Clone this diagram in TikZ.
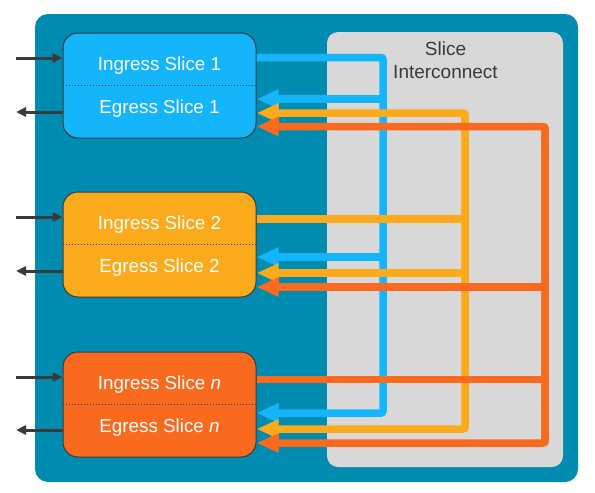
\documentclass[tikz,border=0pt]{standalone}
\usepackage{fontspec}
\setmainfont{Liberation Sans}
\usetikzlibrary{arrows.meta, positioning}

\definecolor{frame}{RGB}{0,140,176}
\definecolor{panel}{RGB}{216,216,216}
\definecolor{sliceblue}{RGB}{21,181,252}
\definecolor{sliceyellow}{RGB}{251,170,28}
\definecolor{sliceorange}{RGB}{250,106,30}
\definecolor{ink}{RGB}{58,58,58}

\tikzset{
  slice/.style={draw=ink, line width=1pt, rounded corners=15pt, minimum width=193pt, minimum height=105pt},
  slicetext/.style={text=white, font=\fontsize{18.8}{22}\selectfont},
  divider/.style={ink, line width=1pt, dotted},
  bus/.style={line width=7.5pt, rounded corners=2pt},
  tip/.style={-{Triangle[length=22pt,width=18pt]}},
  port/.style={ink, line width=3pt, -{Triangle[length=10pt,width=9pt]}}
}

\begin{document}
\begin{tikzpicture}[x=1pt,y=-1pt]
\useasboundingbox (0,0) rectangle (595,493);
% Draw frame and interconnect panel
\fill[frame, rounded corners=13pt] (35,14) rectangle (578,482);
\fill[panel, rounded corners=11pt] (327,32) rectangle (563,467);
\node[align=center, text=ink, font=\fontsize{19}{23}\selectfont] (xconn) at (445.5,60) {Slice\\Interconnect};
% Draw slices
\node[slice, fill=sliceblue] (slice1) at (159.5,85.5) {};
\node[slice, fill=sliceyellow] (slice2) at (159.5,244.5) {};
\node[slice, fill=sliceorange] (slicen) at (159.5,404.5) {};
\draw[divider] (slice1.west) -- (slice1.east);
\draw[divider] (slice2.west) -- (slice2.east);
\draw[divider] (slicen.west) -- (slicen.east);
\node[slicetext] (in1) at ([yshift=20pt]slice1.center) {Ingress Slice 1};
\node[slicetext] (out1) at ([yshift=-23pt]slice1.center) {Egress Slice 1};
\node[slicetext] (in2) at ([yshift=20pt]slice2.center) {Ingress Slice 2};
\node[slicetext] (out2) at ([yshift=-23pt]slice2.center) {Egress Slice 2};
\node[slicetext] (inn) at ([yshift=20pt]slicen.center) {Ingress Slice \textit{n}};
\node[slicetext] (outn) at ([yshift=-23pt]slicen.center) {Egress Slice \textit{n}};
% Ports on the left
\coordinate (p1in) at (16,58);   \coordinate (p1out) at (16,112);
\coordinate (p2in) at (16,217);  \coordinate (p2out) at (16,271);
\coordinate (pnin) at (16,377);  \coordinate (pnout) at (16,430);
\draw[port] (p1in) -- (slice1.west |- p1in);
\draw[port] (slice1.west |- p1out) -- (p1out);
\draw[port] (p2in) -- (slice2.west |- p2in);
\draw[port] (slice2.west |- p2out) -- (p2out);
\draw[port] (pnin) -- (slicen.west |- pnin);
\draw[port] (slicen.west |- pnout) -- (pnout);
% Blue bus from slice 1
\coordinate (btop) at (383,57.5);
\coordinate (bbot) at (383,413);
\draw[bus, sliceblue, tip] (slice1.east |- btop) -- (btop) -- (bbot) -- (slicen.east |- bbot);
\draw[bus, sliceblue, tip] (btop |- 0,99) -- (slice1.east |- 0,99);
\draw[bus, sliceblue, tip] (btop |- 0,257) -- (slice2.east |- 0,257);
% Yellow bus from slice 2
\coordinate (ytop) at (465,113);
\coordinate (ybot) at (465,429);
\draw[bus, sliceyellow, tip] (ybot) -- (ytop) -- (slice1.east |- ytop);
\draw[bus, sliceyellow, tip] (ytop) -- (ybot) -- (slicen.east |- ybot);
\draw[bus, sliceyellow] (slice2.east |- 0,219) -- (ytop |- 0,219);
\draw[bus, sliceyellow, tip] (ytop |- 0,273) -- (slice2.east |- 0,273);
% Orange bus from slice n
\coordinate (otop) at (545,126.5);
\coordinate (obot) at (545,443);
\draw[bus, sliceorange, tip] (obot) -- (otop) -- (slice1.east |- otop);
\draw[bus, sliceorange, tip] (otop) -- (obot) -- (slicen.east |- obot);
\draw[bus, sliceorange] (slicen.east |- 0,379.5) -- (otop |- 0,379.5);
\draw[bus, sliceorange, tip] (otop |- 0,287) -- (slice2.east |- 0,287);
\end{tikzpicture}
\end{document}
